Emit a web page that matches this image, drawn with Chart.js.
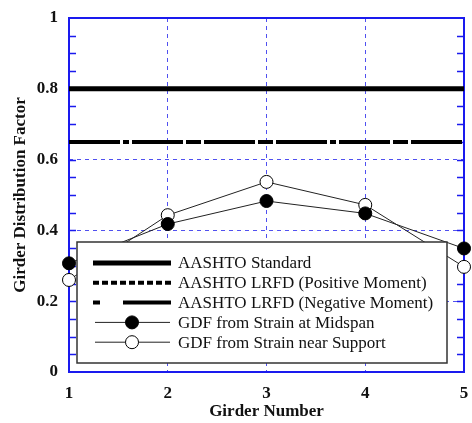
<!DOCTYPE html>
<html>
<head>
<meta charset="utf-8">
<script src="https://cdn.jsdelivr.net/npm/chart.js@4"></script>
<style>
  html, body { margin: 0; padding: 0; background: #fff; }
  #wrap { width: 472px; height: 423px; }
</style>
</head>
<body>
<div id="wrap"><canvas id="gdfChart" width="472" height="423"></canvas></div>
<script>
// Girder numbers and measured distribution factors
const girders = [1, 2, 3, 4, 5];
const midspanGdf = [0.307, 0.418, 0.483, 0.448, 0.349];
const supportGdf = [0.260, 0.443, 0.537, 0.472, 0.297];

// Code-specified factors (constant across girders)
const aashtoStandard = 0.80;
const lrfdPositive = 0.65;
const lrfdNegative = 0.65;

const yTicks = [0, 0.2, 0.4, 0.6, 0.8, 1];

const serif = '"Liberation Serif", "Times New Roman", serif';
const axisBlue = '#1a1aee';
const gridBlue = '#5050f0';

function flat(v) {
    return [{ x: girders[0], y: v }, { x: girders[girders.length - 1], y: v }];
}
function pts(vals) {
    return girders.map((g, i) => ({ x: g, y: vals[i] }));
}

// legend rows: label, line dash, line width, marker
const legendRows = [
    { text: 'AASHTO Standard', dash: [], width: 5, marker: null },
    { text: 'AASHTO LRFD (Positive Moment)', dash: [6, 3], width: 4, marker: null },
    { text: 'AASHTO LRFD (Negative Moment)', dash: [7, 23, 48, 23], width: 4, marker: null },
    { text: 'GDF from Strain at Midspan', dash: [], width: 1, marker: 'filled' },
    { text: 'GDF from Strain near Support', dash: [], width: 1, marker: 'open' }
];

// minor ticks + frame drawn over the grid
const framePlugin = {
    id: 'frame',
    beforeDatasetsDraw(chart) {
        const { ctx, chartArea: a, scales: { y } } = chart;
        ctx.save();
        ctx.strokeStyle = axisBlue;
        ctx.lineWidth = 1.5;
        for (let v = 0.05; v < 1; v += 0.05) {
            const py = Math.round(y.getPixelForValue(v)) + 0.5;
            ctx.beginPath();
            ctx.moveTo(a.left, py);
            ctx.lineTo(a.left + 7, py);
            ctx.moveTo(a.right, py);
            ctx.lineTo(a.right - 7, py);
            ctx.stroke();
        }
        ctx.lineWidth = 2;
        ctx.strokeRect(a.left, a.top, a.right - a.left, a.bottom - a.top);
        ctx.restore();
    }
};

// boxed legend inside the plot
const boxLegendPlugin = {
    id: 'boxLegend',
    afterDatasetsDraw(chart) {
        const { ctx } = chart;
        const bx = 77, by = 242, bw = 370, bh = 121;
        ctx.save();
        ctx.fillStyle = '#fff';
        ctx.fillRect(bx, by, bw, bh);
        ctx.strokeStyle = '#333';
        ctx.lineWidth = 1.5;
        ctx.strokeRect(bx, by, bw, bh);

        ctx.font = '17px ' + serif;
        ctx.textBaseline = 'middle';
        ctx.textAlign = 'left';
        legendRows.forEach((r, i) => {
            const cy = 263 + i * 19.8;
            const x0 = r.marker ? 95 : 93, x1 = r.marker ? 170 : 171;
            ctx.strokeStyle = r.marker ? '#222' : '#000';
            ctx.lineWidth = r.width;
            ctx.setLineDash(r.dash);
            ctx.beginPath();
            ctx.moveTo(x0, cy);
            ctx.lineTo(x1, cy);
            ctx.stroke();
            ctx.setLineDash([]);
            if (r.marker) {
                ctx.beginPath();
                ctx.arc(132, cy, 6.5, 0, Math.PI * 2);
                ctx.fillStyle = r.marker === 'filled' ? '#000' : '#fff';
                ctx.fill();
                ctx.lineWidth = 1;
                ctx.strokeStyle = '#000';
                ctx.stroke();
            }
            ctx.fillStyle = '#111';
            ctx.fillText(r.text, 178, cy + 1);
        });
        ctx.restore();
    }
};

const ctx = document.getElementById('gdfChart').getContext('2d');
const gdfChart = new Chart(ctx, {
    type: 'line',
    data: {
        datasets: [
            {
                label: 'GDF from Strain at Midspan',
                data: pts(midspanGdf),
                borderColor: '#222',
                borderWidth: 1,
                pointRadius: 6.5,
                pointBackgroundColor: '#000',
                pointBorderColor: '#000',
                pointBorderWidth: 1,
                clip: false
            },
            {
                label: 'GDF from Strain near Support',
                data: pts(supportGdf),
                borderColor: '#222',
                borderWidth: 1,
                pointRadius: 6.5,
                pointBackgroundColor: '#fff',
                pointBorderColor: '#000',
                pointBorderWidth: 1,
                clip: false
            },
            {
                label: 'AASHTO Standard',
                data: flat(aashtoStandard),
                borderColor: '#000',
                borderWidth: 5,
                pointRadius: 0
            },
            {
                label: 'AASHTO LRFD (Positive Moment)',
                data: flat(lrfdPositive),
                borderColor: '#000',
                borderWidth: 4,
                borderDash: [6, 3],
                pointRadius: 0
            },
            {
                label: 'AASHTO LRFD (Negative Moment)',
                data: flat(lrfdNegative),
                borderColor: '#000',
                borderWidth: 4,
                borderDash: [45, 9, 6, 9],
                pointRadius: 0
            }
        ]
    },
    options: {
        responsive: false,
        animation: false,
        layout: { padding: { top: 18, right: 8, left: 0, bottom: 0 } },
        plugins: {
            legend: { display: false },
            tooltip: { enabled: false }
        },
        scales: {
            x: {
                type: 'linear',
                min: 1,
                max: 5,
                afterFit(s) {
                    s.height = 51;
                    s.paddingLeft = 0;
                    s.paddingRight = 0;
                },
                afterBuildTicks(s) { s.ticks = girders.map(v => ({ value: v })); },
                border: { display: false, dash: [4, 4] },
                grid: { color: gridBlue, lineWidth: 1, drawTicks: false },
                ticks: {
                    padding: 11,
                    color: '#111',
                    font: { family: serif, size: 17, weight: 'bold' }
                },
                title: {
                    display: true,
                    text: 'Girder Number',
                    color: '#111',
                    padding: { top: 0, bottom: 1 },
                    font: { family: serif, size: 17, weight: 'bold' }
                }
            },
            y: {
                min: 0,
                max: 1,
                afterFit(s) {
                    s.width = 69;
                    s.paddingTop = 0;
                    s.paddingBottom = 0;
                },
                afterBuildTicks(s) { s.ticks = yTicks.map(v => ({ value: v })); },
                border: { display: false, dash: [4, 4] },
                grid: { color: gridBlue, lineWidth: 1, drawTicks: false },
                ticks: {
                    padding: 11,
                    color: '#111',
                    font: { family: serif, size: 17, weight: 'bold' },
                    callback: v => String(Math.round(v * 10) / 10)
                },
                title: {
                    display: true,
                    text: 'Girder Distribution Factor',
                    color: '#111',
                    padding: { top: 10, bottom: 0 },
                    font: { family: serif, size: 17, weight: 'bold' }
                }
            }
        }
    },
    plugins: [framePlugin, boxLegendPlugin]
});
</script>
</body>
</html>
